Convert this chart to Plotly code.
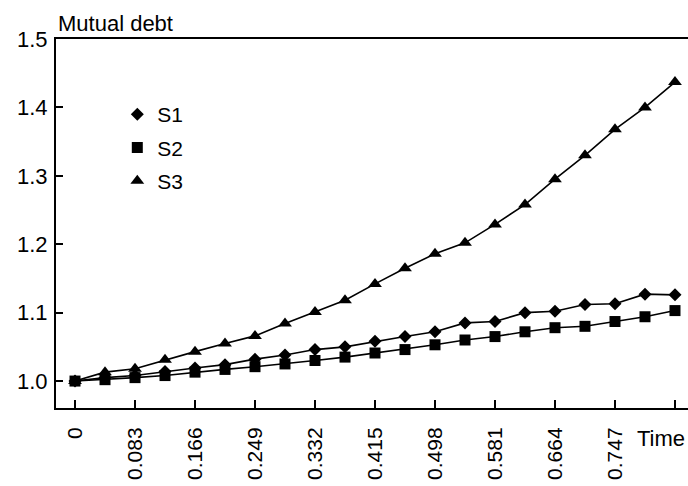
import plotly.graph_objects as go

# Time grid (21 samples, step 0.0415)
time = [round(0.0415 * i, 4) for i in range(21)]

s1 = [1.000, 1.005, 1.008, 1.014, 1.019, 1.024, 1.032, 1.038, 1.046, 1.050, 1.058,
      1.065, 1.072, 1.085, 1.087, 1.100, 1.102, 1.112, 1.113, 1.127, 1.126]
s2 = [1.000, 1.002, 1.005, 1.008, 1.013, 1.017, 1.021, 1.025, 1.030, 1.035, 1.041,
      1.046, 1.053, 1.060, 1.065, 1.072, 1.078, 1.080, 1.087, 1.094, 1.103]
s3 = [1.000, 1.013, 1.018, 1.031, 1.043, 1.055, 1.066, 1.084, 1.101, 1.118, 1.142,
      1.165, 1.186, 1.202, 1.229, 1.258, 1.295, 1.330, 1.368, 1.400, 1.437]

x_tickvals = [0, 0.083, 0.166, 0.249, 0.332, 0.415, 0.498, 0.581, 0.664, 0.747, 0.83]
x_ticktext = ["0", "0.083", "0.166", "0.249", "0.332", "0.415", "0.498", "0.581",
              "0.664", "0.747", ""]
y_tickvals = [1.0, 1.1, 1.2, 1.3, 1.4, 1.5]

FONT = "Liberation Sans, Arial, sans-serif"

fig = go.Figure()
series = [("S1", s1, "diamond", 10),
          ("S2", s2, "square", 11),
          ("S3", s3, "triangle-up", 12)]
for name, ys, sym, size in series:
    # connecting line (kept out of the legend)
    fig.add_trace(go.Scatter(
        x=time, y=ys, mode="lines", showlegend=False, hoverinfo="skip",
        line=dict(color="black", width=1.6), legendgroup=name,
    ))
    # markers (legend shows the symbol only)
    fig.add_trace(go.Scatter(
        x=time, y=ys, name=name, mode="markers",
        marker=dict(symbol=sym, size=size, color="black"),
        legendgroup=name,
    ))

fig.update_layout(
    width=688, height=486,
    margin=dict(l=56, r=0, t=39, b=78),
    paper_bgcolor="white", plot_bgcolor="white",
    font=dict(family=FONT, size=21, color="black"),
    showlegend=True,
    legend=dict(x=0.097, y=0.851, xanchor="left", yanchor="top",
                bgcolor="rgba(0,0,0,0)", font=dict(size=21),
                tracegroupgap=3, itemwidth=30),
    xaxis=dict(range=[-0.0263, 0.848], tickvals=x_tickvals, ticktext=x_ticktext,
               tickangle=-90, ticks="inside", ticklen=8, tickwidth=1.5,
               tickcolor="black", showline=True, linecolor="black", linewidth=2,
               mirror=True, showgrid=False, zeroline=False,
               ticklabelstandoff=9, tickfont=dict(size=21)),
    yaxis=dict(range=[0.9606, 1.5], tickvals=y_tickvals, tickformat=".1f",
               ticks="inside", ticklen=7, tickwidth=1.5, tickcolor="black",
               showline=True, linecolor="black", linewidth=2,
               showgrid=False, zeroline=False, ticklabelstandoff=2,
               tickfont=dict(size=22)),
    annotations=[
        dict(text="Mutual debt", xref="paper", yref="paper", x=0, y=1,
             xanchor="left", yanchor="bottom", yshift=1, showarrow=False,
             font=dict(size=22)),
        dict(text="Time", xref="x", yref="paper", x=0.83, y=0,
             xanchor="right", yanchor="top", xshift=12, yshift=-16,
             showarrow=False, font=dict(size=22)),
    ],
)

fig.write_html("out.html")
